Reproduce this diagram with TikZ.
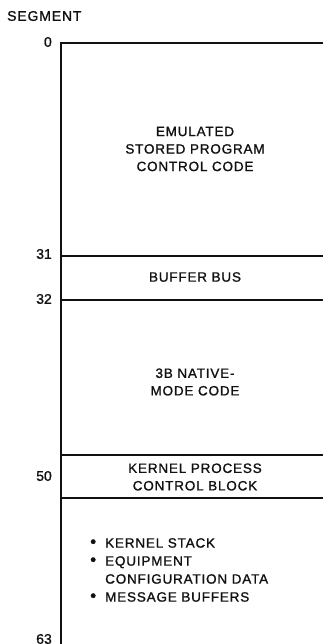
\documentclass[tikz,border=0pt]{standalone}
\usepackage{fontspec}
\setmainfont{Liberation Sans}[FakeBold=1.2]
\usetikzlibrary{positioning}
\definecolor{ink}{HTML}{111111}
\newcommand{\itembullet}{\makebox[15pt][l]{\fontsize{17}{17}\selectfont\raisebox{0.3pt}{\textbullet}}}
\tikzset{
  seglabel/.style={anchor=east, font=\fontsize{14}{16}\selectfont, text=ink, inner sep=0pt},
  regiontext/.style={align=center, font=\fontsize{13.5}{17.5}\selectfont\addfontfeature{LetterSpace=6}, text=ink, inner sep=0pt},
  itemtext/.style={align=left, font=\fontsize{13.5}{18}\selectfont\addfontfeature{LetterSpace=6}, text=ink, inner sep=0pt},
  rule/.style={draw=ink, line width=1.4pt},
}
\begin{document}
\begin{tikzpicture}[x=1pt, y=-1pt]
\useasboundingbox (0,0) rectangle (323,644);
% boundaries
\coordinate (top) at (61,43);
\coordinate (b31) at (61,256);
\coordinate (b32) at (61,300);
\coordinate (k1) at (61,455);
\coordinate (k2) at (61,498);
\coordinate (bot) at (61,644);
\draw[rule] (323,43) -- (top) -- (bot);
\draw[rule] (b31) -- (323,256);
\draw[rule] (b32) -- (323,300);
\draw[rule] (k1) -- (323,455);
\draw[rule] (k2) -- (323,498);
% segment numbers
\node[anchor=west, font=\fontsize{14}{16}\selectfont\addfontfeature{LetterSpace=6}, text=ink, inner sep=0pt] (title) at (7,16) {SEGMENT};
\node[seglabel] (s0) at (52,42) {0};
\node[seglabel] (s31) at (52,254) {31};
\node[seglabel] (s32) at (52,299) {32};
\node[seglabel] (s50) at (52,476) {50};
\node[seglabel] (s63) at (52,639) {63};
% regions
\node[regiontext] (emu) at (195,149) {EMULATED\\STORED PROGRAM\\CONTROL CODE};
\node[regiontext] (bus) at (195,277) {BUFFER BUS};
\node[regiontext] (native) at (195,382) {3B NATIVE-\\MODE CODE};
\node[regiontext] (kpcb) at (195,477) {KERNEL PROCESS\\CONTROL BLOCK};
\node[itemtext, anchor=north west] (items) at (90,538) {\itembullet KERNEL STACK\\\itembullet EQUIPMENT\\\hspace*{15pt}CONFIGURATION DATA\\\itembullet MESSAGE BUFFERS};
\end{tikzpicture}
\end{document}
